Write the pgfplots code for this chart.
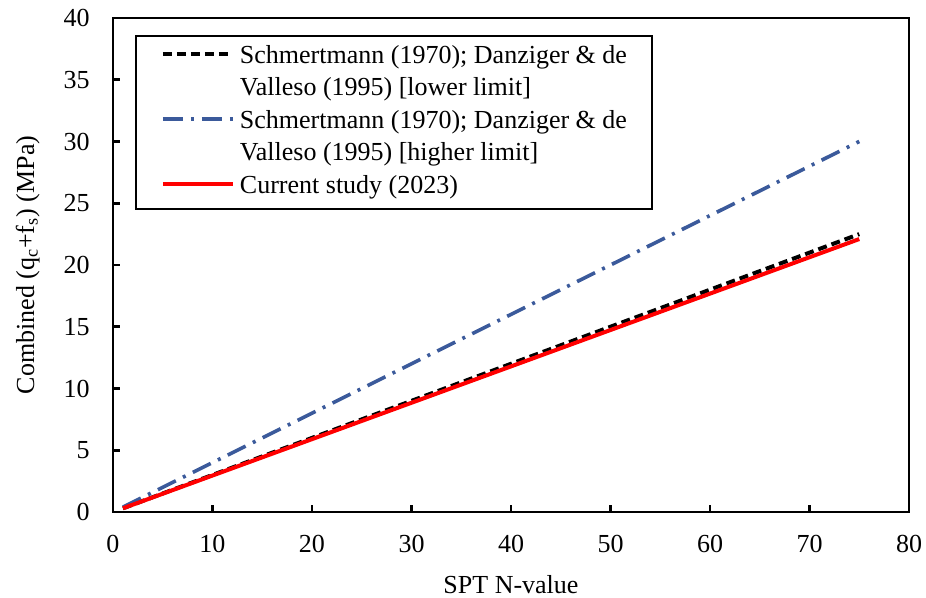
\documentclass[border=0pt]{standalone}
\usepackage{fontspec}
\setmainfont{Liberation Serif}
\usepackage{pgfplots}
\pgfplotsset{compat=1.18}
\definecolor{hiblue}{RGB}{59,90,155}
\definecolor{curred}{RGB}{255,0,0}

\begin{document}
\fontsize{13}{16.25}\selectfont
\begin{tikzpicture}
\begin{axis}[
  at={(0,0)}, anchor=south west,
  scale only axis, width=398pt, height=247pt,
  xmin=0, xmax=80, ymin=0, ymax=40,
  xtick={0,10,...,80}, ytick={0,5,...,40},
  tick align=inside, xtick pos=bottom, ytick pos=left,
  major tick length=3.5pt,
  axis line style={line width=1.35pt},
  tick style={black, line width=1.3pt},
  /pgf/number format/assume math mode=true,
  tick label style={font=\fontsize{13}{16.25}\selectfont, inner sep=0pt},
  xticklabel style={anchor=base, yshift=-20.5pt},
  yticklabel style={anchor=east, xshift=-11.5pt},
  xlabel={SPT N-value},
  ylabel={Combined (q\textsubscript{c}+f\textsubscript{s}) (MPa)},
  label style={font=\fontsize{13}{16.25}\selectfont, inner sep=0pt},
  xlabel style={at={(axis description cs:0.5,-0.164)}, anchor=base},
  ylabel style={at={(axis description cs:-0.0992,0.5)}, anchor=base},
  legend style={
    at={(0.0276,0.9656)}, anchor=north west,
    draw=black, line width=1pt,
    inner xsep=12.5pt, inner ysep=2.75pt,
    column sep=2.5pt, row sep=0pt,
    font=\fontsize{13}{16.25}\selectfont,
    nodes={inner sep=0pt, text height=11pt, text depth=5.25pt},
  },
  legend cell align=left,
  legend image code/.code={\draw[#1] (0pt,2pt) -- (35pt,2pt);},
]
% lower limit (Schmertmann 1970; Danziger & de Valleso 1995)
\addplot[black, line width=2pt, dash pattern=on 4.5pt off 2.5pt]
  coordinates {(1,0.3) (75,22.5)};
\addlegendentry{Schmertmann (1970); Danziger \& de}
\addlegendimage{empty legend}
\addlegendentry{Valleso (1995) [lower limit]}
% higher limit
\addplot[hiblue, line width=1.8pt, dash pattern=on 10pt off 4pt on 1.5pt off 4pt]
  coordinates {(1,0.4) (75,30)};
\addlegendentry{Schmertmann (1970); Danziger \& de}
\addlegendimage{empty legend}
\addlegendentry{Valleso (1995) [higher limit]}
% present correlation
\addplot[curred, line width=2pt]
  coordinates {(1,0.3) (75,22.1)};
\addlegendentry{Current study (2023)}
\end{axis}
\pgfresetboundingbox
\path[use as bounding box] (-56.5pt,-43pt) rectangle (406.5pt,256pt);
\end{tikzpicture}
\end{document}
